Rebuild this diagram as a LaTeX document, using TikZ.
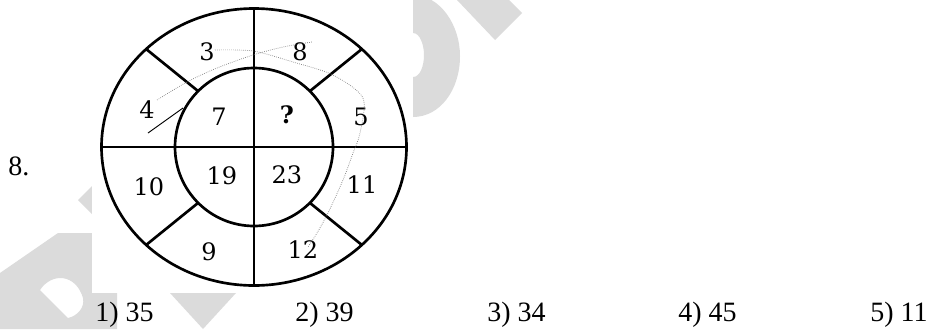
\documentclass[tikz,border=0pt]{standalone}
\usepackage{fontspec}
\setmainfont{Liberation Serif}
\newfontfamily\scanfont{DejaVu Serif}
\begin{document}
\begin{tikzpicture}[x=0.75pt,y=-0.75pt,
	ringline/.style={line width=2pt},
	cellnum/.style={font=\scanfont\fontsize{18}{20}\selectfont,inner sep=0pt},
	answer/.style={font=\fontsize{21}{24}\selectfont,anchor=base west,inner sep=0pt},
	scribble/.style={densely dotted,black!55,line width=0.5pt},
	wmark/.style={fill=black!14,draw=none}]
	\useasboundingbox (0,0) rectangle (930,329);
	\fill[wmark,even odd rule] (0,273)--(58,233)--(100,233)--(100,293)--(117,293)--(117,329)--(0,329)--cycle
		(40,290) .. controls (52,272) and (76,274) .. (83,298) .. controls (85,308) and (77,316) .. (68,318)--cycle;
	\fill[wmark] (78,200)--(100,178)--(100,222)--cycle;
	\fill[wmark] (170,293)--(236,293)--(203,329)--cycle;
	\fill[wmark,even odd rule] (405,-5)--(413,-5) .. controls (440,-5) and (460,25) .. (460,56) .. controls (460,90) and (440,117) .. (413,117)--(405,117)--cycle
		(405,33)--(413,33) .. controls (420,33) and (424,45) .. (424,55) .. controls (424,66) and (420,77) .. (413,77)--(405,77)--cycle;
	\fill[wmark] (457,0)--(509,0)--(522,13)--(495,40)--cycle;
	\fill[white] (92,0) rectangle (413,293);
	\coordinate (c) at (254,147);
	\draw[ringline] (c) ellipse [x radius=152.5,y radius=138.5];
	\draw[ringline] (c) circle [radius=79];
	\draw[ringline] ([shift={(0,-138.5)}]c)--([shift={(0,138.5)}]c);
	\draw[ringline] ([shift={(-152.5,0)}]c)--([shift={(152.5,0)}]c);
	\foreach \a in {45,135,225,315}
	\draw[ringline] ([shift={(\a:79)}]c)--([shift={(\a:152.5 and 138.5)}]c);
	\node[cellnum] (n3) at (207,52) {3};
	\node[cellnum] (n8) at (300,52) {8};
	\node[cellnum] (n4) at (147,110) {4};
	\node[cellnum] (n7) at (219,117) {7};
	\node[cellnum,font=\scanfont\bfseries\fontsize{18}{20}\selectfont] (nq) at (287,115) {?};
	\node[cellnum] (n5) at (361,117) {5};
	\node[cellnum] (n10) at (149,187) {10};
	\node[cellnum] (n19) at (222,176) {19};
	\node[cellnum] (n23) at (287,175) {23};
	\node[cellnum] (n11) at (362,185) {11};
	\node[cellnum] (n9) at (209,252) {9};
	\node[cellnum] (n12) at (303,250) {12};
	\draw[scribble] plot[smooth] coordinates {(215,50) (253,51) (293,62) (333,75) (363,98) (360,133) (353,153) (343,180) (328,213) (317,233) (308,247)};
	\draw[scribble] plot[smooth] coordinates {(157,100) (187,82) (217,68) (253,55) (283,47) (312,42)};
	\draw[line width=0.7pt] (148,133)--(183,108);
	\node[answer] (qnum) at (8,175) {8.};
	\node[answer] (a1) at (95,321) {1) 35};
	\node[answer] (a2) at (295,321) {2) 39};
	\node[answer] (a3) at (487,321) {3) 34};
	\node[answer] (a4) at (678,321) {4) 45};
	\node[answer] (a5) at (870,321) {5) 11};
\end{tikzpicture}
\end{document}
